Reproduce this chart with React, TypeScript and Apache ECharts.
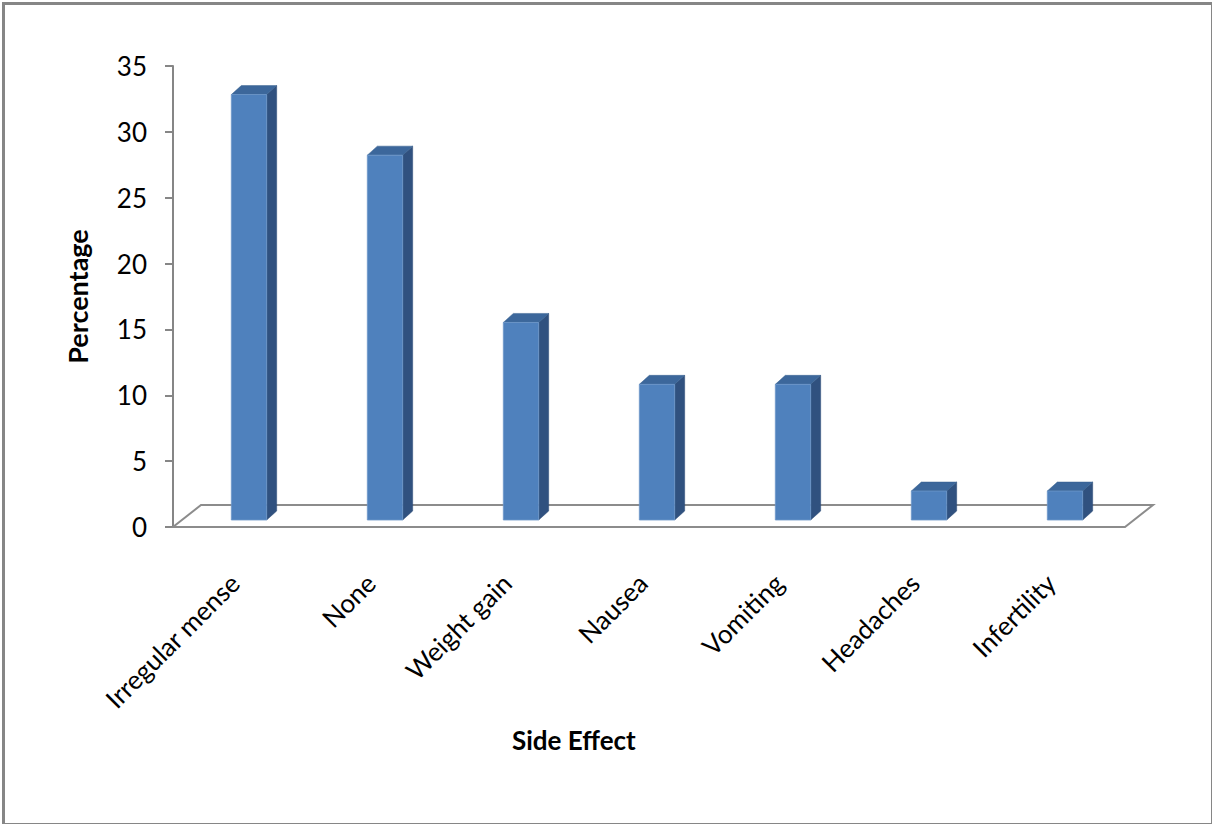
import React, { useEffect, useRef } from "react";
import * as echarts from "echarts";

// Reported side effects and the share of respondents (%)
const categories = [
  "Irregular mense",
  "None",
  "Weight gain",
  "Nausea",
  "Vomiting",
  "Headaches",
  "Infertility",
];
const percentages = [32.3, 27.7, 15.0, 10.3, 10.3, 2.2, 2.2];

const yMin = 0;
const yMax = 35;
const yStep = 5;

const FONT = "Lato, 'Open Sans', sans-serif";
const AXIS_GREY = "#868686";

// Geometry of the pseudo-3D look
const FLOOR_DX = 28;
const FLOOR_DY = -22;
const PLANE_DX = 8; // bars stand a little behind the front edge of the floor
const PLANE_DY = -7;
const DEPTH_DX = 10; // depth of each column
const DEPTH_DY = -9;
const BAR_RATIO = 0.26;

function renderFloor(params: any) {
  const cs = params.coordSys;
  const x0 = cs.x;
  const x1 = cs.x + cs.width;
  const y = cs.y + cs.height;
  return {
    type: "polygon",
    shape: {
      points: [
        [x0, y],
        [x1, y],
        [x1 + FLOOR_DX, y + FLOOR_DY],
        [x0 + FLOOR_DX, y + FLOOR_DY],
      ],
    },
    style: { fill: "#ffffff", stroke: "#8c8c8c", lineWidth: 2 },
    silent: true,
  };
}

function renderColumn(params: any, api: any) {
  const idx = api.value(0);
  const val = api.value(1);
  const base = api.coord([idx, 0]);
  const top = api.coord([idx, val]);
  const bw = api.size([1, 0])[0] * BAR_RATIO;
  const x = base[0] - bw / 2 + PLANE_DX;
  const yTop = top[1] + PLANE_DY;
  const yBot = base[1] + PLANE_DY;
  const h = yBot - yTop;
  return {
    type: "group",
    children: [
      {
        type: "polygon",
        shape: {
          points: [
            [x + bw, yTop],
            [x + bw + DEPTH_DX, yTop + DEPTH_DY],
            [x + bw + DEPTH_DX, yBot + DEPTH_DY],
            [x + bw, yBot],
          ],
        },
        style: { fill: "#30517f", stroke: "#2b4a75", lineWidth: 0.5 },
      },
      {
        type: "polygon",
        shape: {
          points: [
            [x, yTop],
            [x + DEPTH_DX, yTop + DEPTH_DY],
            [x + bw + DEPTH_DX, yTop + DEPTH_DY],
            [x + bw, yTop],
          ],
        },
        style: { fill: "#3c679b", stroke: "#36608f", lineWidth: 0.5 },
      },
      {
        type: "rect",
        shape: { x, y: yTop, width: bw, height: h },
        style: { fill: "#4f81bd", stroke: "#6d97c9", lineWidth: 0.8 },
      },
    ],
  };
}

export default function App() {
  const ref = useRef<HTMLDivElement>(null);

  useEffect(() => {
    if (!ref.current) return;
    const chart = echarts.init(ref.current, null, { renderer: "svg" });
    chart.setOption({
      animation: false,
      backgroundColor: "#ffffff",
      grid: { left: 173, right: 87, top: 66, bottom: 297, containLabel: false },
      xAxis: {
        type: "category",
        data: categories,
        boundaryGap: true,
        axisLine: { show: false },
        axisTick: { show: false },
        splitLine: { show: false },
        axisLabel: {
          interval: 0,
          rotate: 45,
          margin: 45,
          padding: [0, 9, 0, 0],
          fontSize: 26,
          fontFamily: FONT,
          color: "#000",
        },
      },
      yAxis: {
        type: "value",
        min: yMin,
        max: yMax,
        interval: yStep,
        name: "Percentage",
        nameLocation: "middle",
        nameRotate: 90,
        nameGap: 82,
        nameTextStyle: {
          fontSize: 27,
          fontWeight: "bold",
          fontFamily: FONT,
          color: "#000",
        },
        axisLine: { show: true, lineStyle: { color: AXIS_GREY, width: 2 } },
        axisTick: { show: true, length: 8, lineStyle: { color: AXIS_GREY, width: 2 } },
        splitLine: { show: false },
        axisLabel: { margin: 26, fontSize: 26, fontFamily: FONT, color: "#000" },
      },
      graphic: [
        {
          type: "rect",
          left: 1,
          top: 1,
          shape: { x: 0, y: 0, width: 1209, height: 821 },
          style: { fill: "none", stroke: AXIS_GREY, lineWidth: 3 },
          silent: true,
        },
        {
          type: "text",
          left: 512,
          top: 727,
          style: {
            text: "Side Effect",
            font: `bold 26px ${FONT}`,
            fill: "#000",
          },
        },
      ],
      series: [
        {
          type: "custom",
          name: "floor",
          z: 1,
          silent: true,
          renderItem: renderFloor,
          data: [[0, 0]],
          encode: { x: 0, y: 1 },
        },
        {
          type: "custom",
          name: "Percentage",
          z: 3,
          renderItem: renderColumn,
          data: percentages.map((v, i) => [i, v]),
          encode: { x: 0, y: 1 },
        },
      ],
    });
    return () => chart.dispose();
  }, []);

  return (
    <div
      ref={ref}
      style={{ position: "fixed", left: 0, top: 0, width: 1212, height: 824, background: "#fff" }}
    />
  );
}
